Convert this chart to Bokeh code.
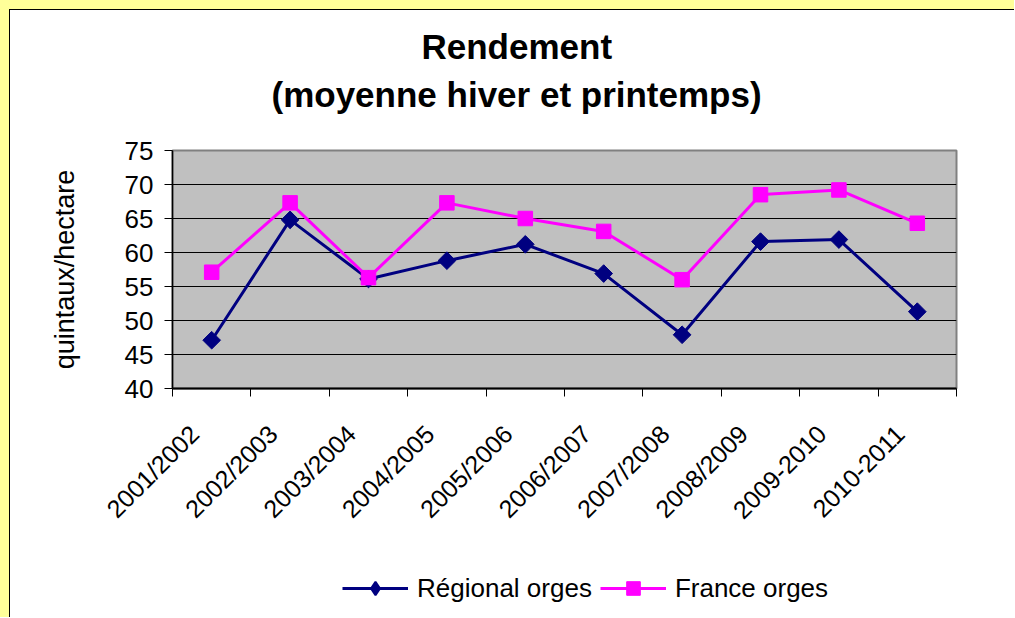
import numpy as np
from bokeh.plotting import figure
from bokeh.layouts import column
from bokeh.models import (Range1d, FixedTicker, Legend, LegendItem, Title,
                          ColumnDataSource)
from bokeh.embed import file_html
from bokeh.resources import INLINE

# ---- data -------------------------------------------------------------
seasons = ["2001/2002", "2002/2003", "2003/2004", "2004/2005", "2005/2006",
           "2006/2007", "2007/2008", "2008/2009", "2009-2010", "2010-2011"]
regional = [47.1, 64.8, 56.1, 58.8, 61.2, 56.9, 47.9, 61.6, 61.9, 51.3]
france = [57.1, 67.3, 56.3, 67.3, 65.0, 63.1, 56.0, 68.5, 69.2, 64.3]
y_ticks = [40, 45, 50, 55, 60, 65, 70, 75]
title_lines = ["Rendement", "(moyenne hiver et printemps)"]
y_label = "quintaux/hectare"
series_names = ["Régional orges", "France orges"]

FONT = "Liberation Sans"
NAVY = "#000080"
MAGENTA = "#FF00FF"
n = len(seasons)
xs = [i + 0.5 for i in range(n)]

src = ColumnDataSource(dict(x=xs, regional=regional, france=france, season=seasons))

# ---- main chart ---------------------------------------------------------
p = figure(width=1004, height=540, output_backend="svg", toolbar_location=None,
           x_range=Range1d(0, n), y_range=Range1d(40, 75),
           min_border_left=162, min_border_right=58,
           min_border_top=140, min_border_bottom=162)

p.background_fill_color = "#C0C0C0"
p.border_fill_color = "white"
p.outline_line_color = "#808080"
p.outline_line_width = 2

# x axis: boundary ticks as minor ticks, labels slightly left of centres
label_pos = [i + 0.28 for i in range(n)]
xax = p.xaxis[0]
xax.ticker = FixedTicker(ticks=label_pos, minor_ticks=list(range(n + 1)))
xax.major_label_overrides = {pos: s for pos, s in zip(label_pos, seasons)}
xax.major_tick_out = 0
xax.major_tick_in = 0
xax.minor_tick_out = 8
xax.minor_tick_in = 0
xax.minor_tick_line_color = "black"
xax.minor_tick_line_width = 1
xax.axis_line_color = "black"
xax.axis_line_width = 2
xax.major_label_orientation = np.pi / 4
xax.major_label_standoff = 33
xax.major_label_text_font = FONT
xax.major_label_text_font_size = "25px"
xax.major_label_text_color = "black"

yax = p.yaxis[0]
yax.ticker = FixedTicker(ticks=y_ticks)
yax.major_tick_out = 8
yax.major_tick_in = 0
yax.minor_tick_out = 0
yax.minor_tick_in = 0
yax.major_tick_line_color = "black"
yax.axis_line_color = "black"
yax.axis_line_width = 1.5
yax.major_label_standoff = 11
yax.major_label_text_font = FONT
yax.major_label_text_font_size = "26px"
yax.major_label_text_color = "black"
yax.axis_label = y_label
yax.axis_label_text_font = FONT
yax.axis_label_text_font_size = "27px"
yax.axis_label_text_font_style = "normal"
yax.axis_label_text_color = "black"
yax.axis_label_standoff = 42

p.xgrid.visible = False
p.ygrid.ticker = FixedTicker(ticks=y_ticks)
p.ygrid.grid_line_color = "black"
p.ygrid.grid_line_width = 1

p.line("x", "regional", source=src, line_color=NAVY, line_width=3)
p.scatter("x", "regional", source=src, marker="square", angle=np.pi / 4,
          size=12.5, fill_color=NAVY, line_color=NAVY)
p.line("x", "france", source=src, line_color=MAGENTA, line_width=3)
p.scatter("x", "france", source=src, marker="square", size=14.5,
          fill_color=MAGENTA, line_color=MAGENTA)

# title (added nearest-to-frame first)
p.add_layout(Title(text=" ", text_font_size="26px", standoff=0), "above")
p.add_layout(Title(text=title_lines[1], align="left", offset=99, standoff=10,
                   text_font=FONT, text_font_size="35px", text_font_style="bold",
                   text_color="black"), "above")
p.add_layout(Title(text=title_lines[0], align="left", offset=249, standoff=4,
                   text_font=FONT, text_font_size="35px", text_font_style="bold",
                   text_color="black"), "above")

# ---- legend strip (same series, outside this strip's visible range) ------
q = figure(width=1004, height=67, output_backend="svg", toolbar_location=None,
           x_range=Range1d(0, 1), y_range=Range1d(0, 1),
           x_axis_location=None, y_axis_location=None, min_border=0)
q.grid.visible = False
q.outline_line_color = None
q.background_fill_color = "white"
q.border_fill_color = "white"
k1 = q.line("x", "regional", source=src, line_color=NAVY, line_width=3)
k2 = q.scatter("x", "regional", source=src, marker="diamond",
               size=14, fill_color=NAVY, line_color=NAVY, line_width=2)
k3 = q.line("x", "france", source=src, line_color=MAGENTA, line_width=3)
k4 = q.scatter("x", "france", source=src, marker="square", size=14,
               fill_color=MAGENTA, line_color=MAGENTA)
legend = Legend(items=[LegendItem(label=series_names[0], renderers=[k1, k2]),
                       LegendItem(label=series_names[1], renderers=[k3, k4])],
                orientation="horizontal", location=(170, 12),
                glyph_width=66, glyph_height=34, label_standoff=9, spacing=8,
                padding=0, border_line_color=None, background_fill_alpha=0,
                label_text_font=FONT, label_text_font_size="26px",
                label_text_color="black")
q.add_layout(legend)

lay = column(p, q, spacing=0)
lay.styles = {"margin-left": "9px", "margin-top": "9px",
              "border-left": "1px solid black", "border-top": "1px solid black",
              "box-shadow": "-9px -9px 0 9px #FFFF99", "background": "white"}

open("out.html", "w").write(file_html(lay, INLINE))
